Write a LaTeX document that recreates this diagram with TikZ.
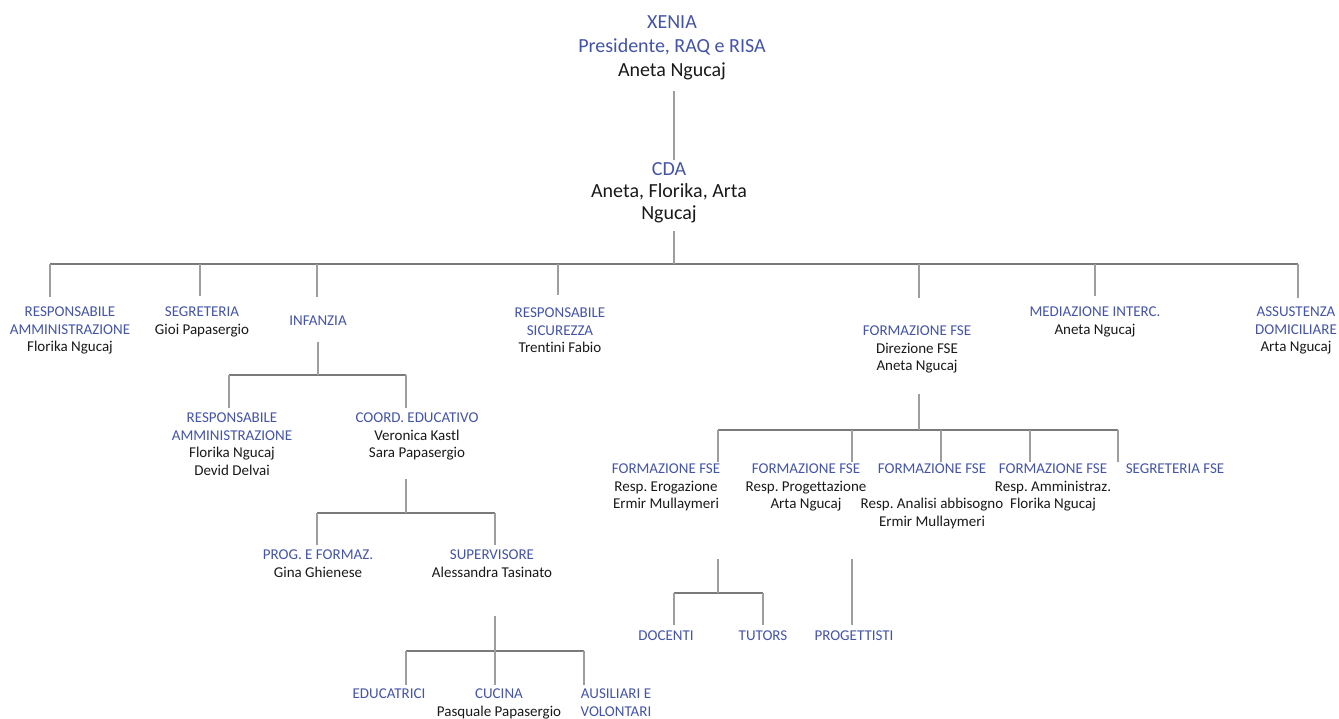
\documentclass[tikz,border=0pt]{standalone}
\usepackage{fontspec}
\setmainfont{Carlito}[Ligatures=CommonOff]
\usetikzlibrary{positioning}
\definecolor{roleblue}{RGB}{68,84,166}
\definecolor{namegray}{RGB}{25,25,25}
\newcommand\rl[1]{\textcolor{roleblue}{#1}}
\frenchspacing

\begin{document}
\begin{tikzpicture}[x=1pt,y=-1pt,
  unit/.style={align=center, inner sep=0pt, outer sep=0pt, anchor=north, text=namegray, font=\fontsize{15}{17.5}\selectfont},
  head/.style={unit, font=\fontsize{20}{24}\selectfont},
  bar/.style={line width=2.6pt, black!52},
  drop/.style={line width=1.1pt, black!38, shorten >=#1},
  drop/.default=4pt,
  stem/.style={line width=1.1pt, black!38, shorten <=#1},
  stem/.default=10pt
  ]
  \useasboundingbox (0,0) rectangle (1339,718);

  % top of the chart
  \node[head] (xen) at (672,15.6) {\rl{XENIA}\\\rl{Presidente, RAQ e RISA}\\Aneta Ngucaj};
  \node[head, font=\fontsize{20}{22}\selectfont] (cda) at (669,162.6) {\rl{CDA}\\Aneta, Florika, Arta\\Ngucaj};

  % first level
  \node[unit] (ra) at (70,307) {\rl{RESPONSABILE}\\\rl{AMMINISTRAZIONE}\\Florika Ngucaj};
  \node[unit] (seg) at (202,307) {\rl{SEGRETERIA}\\Gioi Papasergio};
  \node[unit] (inf) at (318,316) {\rl{INFANZIA}};
  \node[unit] (sic) at (560,308) {\rl{RESPONSABILE}\\\rl{SICUREZZA}\\Trentini Fabio};
  \node[unit] (fse) at (917,326) {\rl{FORMAZIONE FSE}\\Direzione FSE\\Aneta Ngucaj};
  \node[unit] (med) at (1095,307) {\rl{MEDIAZIONE INTERC.}\\Aneta Ngucaj};
  \node[unit] (ass) at (1296,307) {\rl{ASSUSTENZA}\\\rl{DOMICILIARE}\\Arta Ngucaj};

  % infanzia
  \node[unit] (ra2) at (232,413) {\rl{RESPONSABILE}\\\rl{AMMINISTRAZIONE}\\Florika Ngucaj\\Devid Delvai};
  \node[unit] (coord) at (417,413) {\rl{COORD. EDUCATIVO}\\Veronica Kastl\\Sara Papasergio};
  \node[unit] (prog) at (318,550) {\rl{PROG. E FORMAZ.}\\Gina Ghienese};
  \node[unit] (sup) at (492,550) {\rl{SUPERVISORE}\\Alessandra Tasinato};
  \node[unit] (edu) at (389,689) {\rl{EDUCATRICI}};
  \node[unit] (cuc) at (499,689) {\rl{CUCINA}\\Pasquale Papasergio};
  \node[unit] (aus) at (616,689) {\rl{AUSILIARI E}\\\rl{VOLONTARI}};

  % formazione fse
  \node[unit] (fe) at (666,464) {\rl{FORMAZIONE FSE}\\Resp. Erogazione\\Ermir Mullaymeri};
  \node[unit] (fp) at (806,464) {\rl{FORMAZIONE FSE}\\Resp. Progettazione\\Arta Ngucaj};
  \node[unit] (fa) at (932,464) {\rl{FORMAZIONE FSE}\\[17.5pt]Resp. Analisi abbisogno\\Ermir Mullaymeri};
  \node[unit] (fm) at (1053,464) {\rl{FORMAZIONE FSE}\\Resp. Amministraz.\\Florika Ngucaj};
  \node[unit] (sfse) at (1175,464) {\rl{SEGRETERIA FSE}};
  \node[unit] (doc) at (666,631) {\rl{DOCENTI}};
  \node[unit] (tut) at (763,631) {\rl{TUTORS}};
  \node[unit] (progt) at (854,631) {\rl{PROGETTISTI}};

  % bars
  \coordinate (m-ra) at (50,264);
  \coordinate (m-seg) at (200,264);
  \coordinate (m-inf) at (317,264);
  \coordinate (m-sic) at (558,264);
  \coordinate (m-cda) at (674,264);
  \coordinate (m-fse) at (919,264);
  \coordinate (m-med) at (1095,264);
  \coordinate (m-ass) at (1298,264);

  \coordinate (i-ra2) at (229,375);
  \coordinate (i-hub) at (318,375);
  \coordinate (i-coord) at (406,375);

  \coordinate (c-prog) at (317,513);
  \coordinate (c-hub) at (406,513);
  \coordinate (c-sup) at (495,513);

  \coordinate (s-edu) at (406,651);
  \coordinate (s-cuc) at (495,651);
  \coordinate (s-aus) at (584,651);

  \coordinate (f-fe) at (718,430);
  \coordinate (f-fp) at (852,430);
  \coordinate (f-fa) at (941,430);
  \coordinate (f-hub) at (919,430);
  \coordinate (f-fm) at (1030,430);
  \coordinate (f-sfse) at (1118,430);

  \coordinate (e-doc) at (674,593);
  \coordinate (e-hub) at (718,593);
  \coordinate (e-tut) at (763,593);

  \draw[bar] (m-ra) -- (m-ass);
  \draw[bar] (i-ra2) -- (i-coord);
  \draw[bar] (c-prog) -- (c-sup);
  \draw[bar] (s-edu) -- (s-aus);
  \draw[bar] (f-fe) -- (f-sfse);
  \draw[bar] (e-doc) -- (e-tut);

  % stems down to the bars
  \draw[stem=11.6pt, shorten >=2.6pt] (xen.south -| m-cda) -- (cda.north -| m-cda);
  \draw[stem=7.6pt] (m-cda |- cda.south) -- (m-cda);
  \draw[stem=16pt] (i-hub |- inf.south) -- (i-hub);
  \draw[stem=18.5pt] (c-hub |- coord.south) -- (c-hub);
  \draw[stem=39pt] (s-cuc |- sup.south) -- (s-cuc);
  \draw[stem=20.5pt] (f-hub |- fse.south) -- (f-hub);
  \draw[stem=47.5pt] (e-hub |- fe.south) -- (e-hub);
  \draw[stem=47.5pt, shorten >=6pt] (f-fp |- fp.south) -- (f-fp |- progt.north);

  % drops to the units
  \draw[drop=10pt] (m-ra) -- (m-ra |- ra.north);
  \draw[drop=11pt] (m-seg) -- (m-seg |- seg.north);
  \draw[drop=19pt] (m-inf) -- (m-inf |- inf.north);
  \draw[drop=13pt] (m-sic) -- (m-sic |- sic.north);
  \draw[drop=28pt] (m-fse) -- (m-fse |- fse.north);
  \draw[drop=11pt] (m-med) -- (m-med |- med.north);
  \draw[drop=9pt] (m-ass) -- (m-ass |- ass.north);

  \draw[drop=5pt] (i-ra2) -- (i-ra2 |- ra2.north);
  \draw[drop=5pt] (i-coord) -- (i-coord |- coord.north);
  \draw[drop=5pt] (c-prog) -- (c-prog |- prog.north);
  \draw[drop=5pt] (c-sup) -- (c-sup |- sup.north);
  \draw[drop] (s-edu) -- (s-edu |- edu.north);
  \draw[drop] (s-cuc) -- (s-cuc |- cuc.north);
  \draw[drop] (s-aus) -- (s-aus |- aus.north);

  \draw[drop=2pt] (f-fe) -- (f-fe |- fe.north);
  \draw[drop=2pt] (f-fp) -- (f-fp |- fp.north);
  \draw[drop=2pt] (f-fa) -- (f-fa |- fa.north);
  \draw[drop=2pt] (f-fm) -- (f-fm |- fm.north);
  \draw[drop=2pt] (f-sfse) -- (f-sfse |- sfse.north);
  \draw[drop=6pt] (e-doc) -- (e-doc |- doc.north);
  \draw[drop=6pt] (e-tut) -- (e-tut |- tut.north);
\end{tikzpicture}
\end{document}
